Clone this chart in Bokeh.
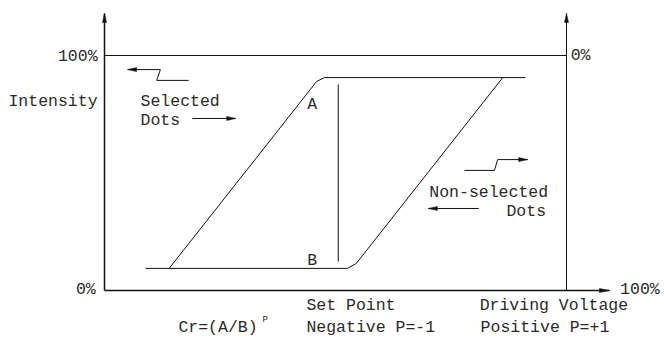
from bokeh.plotting import figure
from bokeh.embed import file_html
from bokeh.resources import INLINE
from bokeh.core.properties import value
import math

# ---- data (percent units: x = driving voltage, y = intensity) ----
selected_x = [14.0, 45.9, 47.6, 91.1]
selected_y = [9.4, 88.9, 90.6, 90.6]
nonsel_x = [8.9, 52.6, 54.5, 86.2]
nonsel_y = [9.4, 9.4, 11.5, 90.6]
setpoint_x = [50.6, 50.6]
setpoint_y = [12.3, 87.7]
full_scale = 100.0
axis_top = 117.9
x_axis_end = 109.3

# annotation arrows: (tail_x, tail_y, head_x, head_y) and zigzag paths
sel_zig_x = [18.2, 11.3, 12.1, 5.0]
sel_zig_y = [89.4, 89.4, 94.0, 94.0]
sel_dots_arrow = [19.0, 73.2, 28.4, 73.2]
non_zig_x = [77.9, 84.4, 85.1, 91.6]
non_zig_y = [51.1, 51.1, 55.7, 55.7]
non_dots_arrow = [81.0, 34.9, 70.1, 34.9]

XR = (-22.51, 121.21)
YR = (-20.43, 123.40)
W, H = 664, 338
sx = W / (XR[1] - XR[0])
sy = H / (YR[1] - YR[0])

p = figure(width=W, height=H, x_range=XR, y_range=YR, output_backend="svg",
           toolbar_location=None, min_border=0)
p.axis.visible = False
p.grid.visible = False
p.outline_line_color = None
p.background_fill_color = "white"
p.border_fill_color = "white"

LC = "#111111"

# axes
p.line([0, 0], [0, axis_top], line_color=LC, line_width=1.5)
p.line([full_scale, full_scale], [0, axis_top], line_color=LC, line_width=1)
p.line([0, x_axis_end], [0, 0], line_color=LC, line_width=1.3)
p.line([0, full_scale], [full_scale, full_scale], line_color=LC, line_width=1)

# curves
p.line(selected_x, selected_y, line_color=LC, line_width=1)
p.line(nonsel_x, nonsel_y, line_color=LC, line_width=1)
p.line(setpoint_x, setpoint_y, line_color=LC, line_width=1)

# zigzags / arrows
p.line(sel_zig_x, sel_zig_y, line_color=LC, line_width=1)
p.line(non_zig_x, non_zig_y, line_color=LC, line_width=1)
p.line(sel_dots_arrow[0::2], sel_dots_arrow[1::2], line_color=LC, line_width=1)
p.line(non_dots_arrow[0::2], non_dots_arrow[1::2], line_color=LC, line_width=1)


def head(x0, y0, x1, y1, L=9, w=2.0):
    dx = (x1 - x0) * sx
    dy = (y1 - y0) * sy
    n = math.hypot(dx, dy)
    ux, uy = dx / n, dy / n
    bx, by = x1 * sx - L * ux, y1 * sy - L * uy
    nx, ny = -uy, ux
    xs = [x1, (bx + w * nx) / sx, (bx - w * nx) / sx]
    ys = [y1, (by + w * ny) / sy, (by - w * ny) / sy]
    return xs, ys


heads = [
    head(0, 0, 0, axis_top),
    head(full_scale, 0, full_scale, axis_top),
    head(0, 0, x_axis_end, 0, L=10),
    head(sel_zig_x[-2], sel_zig_y[-2], sel_zig_x[-1], sel_zig_y[-1]),
    head(non_zig_x[-2], non_zig_y[-2], non_zig_x[-1], non_zig_y[-1]),
    head(*sel_dots_arrow),
    head(*non_dots_arrow),
]
p.patches([h[0] for h in heads], [h[1] for h in heads], fill_color=LC, line_color=LC, line_width=0.5)

FONT = value("Liberation Mono")
TC = "#2a2a2a"

left_labels = ["Selected", "Dots", "A", "B", "0%", "Non-selected", "Dots",
               "Set Point", "Negative P=-1", "Cr=(A/B)", "Driving Voltage",
               "Positive P=+1", "100%"]
left_x = [7.8, 7.8, 43.9, 43.9, 100.9, 70.3, 87.0, 43.7, 43.7, 16.0, 81.2, 81.4, 111.6]
left_y = [80.3, 72.5, 79.0, 12.6, 100.0, 41.5, 33.8, -6.2, -15.9, -15.9, -6.2, -15.9, 0.6]
p.text(left_x, left_y, text=left_labels, text_font=FONT, text_font_size="16.5px",
       text_baseline="middle", text_align="left", text_color=TC)

right_labels = ["100%", "Intensity", "0%"]
right_x = [-1.5, -1.5, -1.9]
right_y = [99.4, 80.3, 0.6]
p.text(right_x, right_y, text=right_labels, text_font=FONT, text_font_size="16.5px",
       text_baseline="middle", text_align="right", text_color=TC)

p.text([34.2], [-12.6], text=["P"], text_font=FONT, text_font_size="9px",
       text_baseline="middle", text_align="left", text_color=TC)

open("out.html", "w").write(file_html(p, INLINE))
